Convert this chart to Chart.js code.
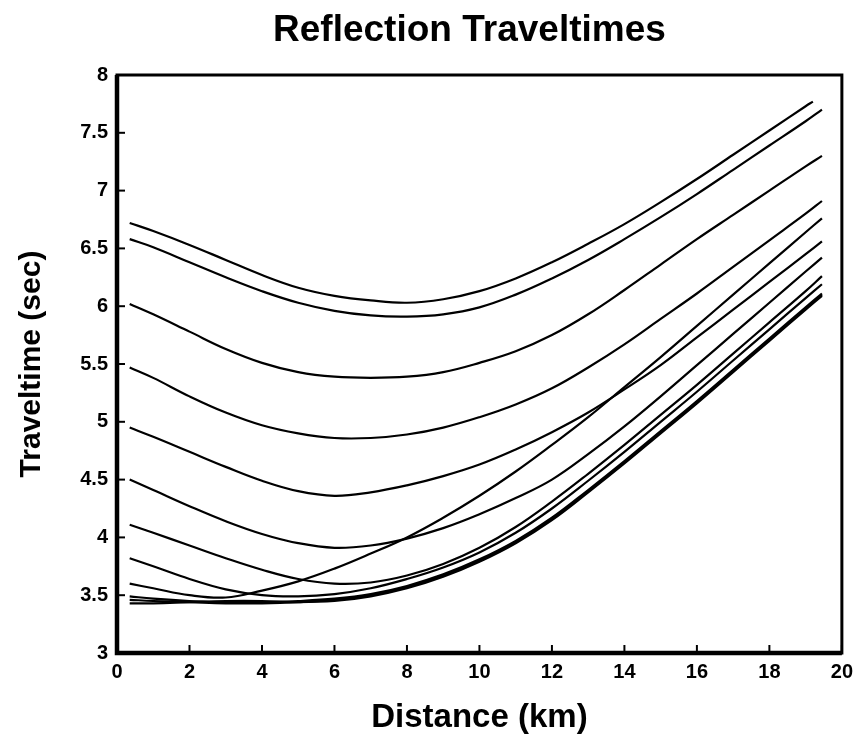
<!DOCTYPE html>
<html>
<head>
<meta charset="utf-8">
<script src="https://cdn.jsdelivr.net/npm/chart.js@4.4.1/dist/chart.umd.min.js"></script>
<style>
  html, body { margin: 0; padding: 0; background: #fff; }
</style>
</head>
<body>
<canvas id="c" width="860" height="742"></canvas>
<script>
// offsets (km) where traveltimes were read
var xs = [0.35, 1, 2, 3, 4, 5, 6, 7, 8, 9, 10, 11, 12, 13, 14, 15, 16, 17, 18, 19, 19.45]
var xsTop = [0.35, 1, 2, 3, 4, 5, 6, 7, 8, 9, 10, 11, 12, 13, 14, 15, 16, 17, 18, 19, 19.2]

// traveltimes (sec), one array per reflector, shallowest last
var r1 = [6.72, 6.65, 6.53, 6.40, 6.27, 6.16, 6.09, 6.05, 6.03, 6.06, 6.13, 6.24, 6.38, 6.54, 6.71, 6.90, 7.10, 7.31, 7.52, 7.73, 7.77]
var r2 = [6.58, 6.51, 6.38, 6.25, 6.13, 6.03, 5.96, 5.92, 5.91, 5.93, 5.99, 6.10, 6.24, 6.40, 6.58, 6.77, 6.97, 7.18, 7.39, 7.60, 7.70]
var r3 = [6.02, 5.93, 5.78, 5.63, 5.51, 5.43, 5.39, 5.38, 5.39, 5.43, 5.51, 5.61, 5.75, 5.93, 6.14, 6.36, 6.58, 6.79, 7.00, 7.21, 7.30]
var r4 = [5.47, 5.38, 5.22, 5.08, 4.97, 4.90, 4.86, 4.86, 4.89, 4.95, 5.04, 5.15, 5.29, 5.47, 5.67, 5.89, 6.11, 6.34, 6.57, 6.80, 6.91]
var r5 = [4.95, 4.87, 4.74, 4.61, 4.49, 4.40, 4.36, 4.39, 4.45, 4.53, 4.63, 4.76, 4.91, 5.08, 5.28, 5.49, 5.73, 5.97, 6.21, 6.45, 6.56]
var r6 = [4.50, 4.41, 4.27, 4.14, 4.03, 3.95, 3.91, 3.93, 3.99, 4.08, 4.20, 4.34, 4.50, 4.72, 4.96, 5.22, 5.49, 5.76, 6.03, 6.30, 6.42]
var r7 = [4.11, 4.04, 3.93, 3.82, 3.72, 3.64, 3.60, 3.61, 3.67, 3.77, 3.91, 4.09, 4.31, 4.55, 4.80, 5.06, 5.32, 5.59, 5.86, 6.13, 6.26]
var r8 = [3.82, 3.75, 3.64, 3.55, 3.50, 3.49, 3.51, 3.56, 3.64, 3.74, 3.87, 4.04, 4.25, 4.49, 4.74, 5.00, 5.26, 5.53, 5.80, 6.07, 6.19]
var r9 = [3.60, 3.56, 3.50, 3.48, 3.54, 3.62, 3.73, 3.86, 4.00, 4.17, 4.36, 4.57, 4.80, 5.04, 5.30, 5.56, 5.83, 6.10, 6.37, 6.64, 6.76]
var r10 = [3.49, 3.47, 3.45, 3.44, 3.44, 3.45, 3.47, 3.51, 3.58, 3.68, 3.81, 3.97, 4.17, 4.41, 4.66, 4.92, 5.18, 5.45, 5.72, 5.99, 6.11]
var r11 = [3.46, 3.45, 3.44, 3.43, 3.43, 3.44, 3.46, 3.50, 3.57, 3.67, 3.80, 3.96, 4.16, 4.40, 4.65, 4.91, 5.17, 5.44, 5.71, 5.98, 6.10]
var r12 = [3.43, 3.43, 3.44, 3.45, 3.45, 3.44, 3.45, 3.49, 3.56, 3.66, 3.79, 3.95, 4.15, 4.39, 4.64, 4.90, 5.16, 5.43, 5.70, 5.97, 6.09]

var xTicks = [0, 2, 4, 6, 8, 10, 12, 14, 16, 18, 20]
var yTicks = [3, 3.5, 4, 4.5, 5, 5.5, 6, 6.5, 7, 7.5, 8]

var curves = [r1, r2, r3, r4, r5, r6, r7, r8, r9, r10, r11, r12]

var font = "'Liberation Sans', Arial, sans-serif"

const datasets = curves.map((c, i) => {
  const px = i == 0 ? xsTop : xs
  return {
    label: "reflector " + (i + 1),
    data: c.map((t, j) => ({ x: px[j], y: t })),
    borderColor: "#000",
    borderWidth: 2.2,
    pointRadius: 0,
    tension: 0.4,
    fill: false,
  }
})

// frame, inward tick marks and title
const framePlugin = {
  id: "frame",
  afterDraw(chart) {
    const ctx = chart.ctx
    const a = chart.chartArea
    const sx = chart.scales.x
    const sy = chart.scales.y
    ctx.save()
    ctx.strokeStyle = "#000"
    ctx.lineWidth = 2
    xTicks.forEach(v => {
      const p = sx.getPixelForValue(v)
      ctx.beginPath(); ctx.moveTo(p, a.bottom); ctx.lineTo(p, a.bottom - 8); ctx.stroke()
    })
    yTicks.forEach(v => {
      const p = sy.getPixelForValue(v)
      ctx.beginPath(); ctx.moveTo(a.left, p); ctx.lineTo(a.left + 8, p); ctx.stroke()
    })
    ctx.lineWidth = 3
    ctx.strokeRect(a.left, a.top, a.right - a.left, a.bottom - a.top)
    ctx.lineWidth = 4.5
    ctx.beginPath()
    ctx.moveTo(a.left, a.top); ctx.lineTo(a.left, a.bottom); ctx.lineTo(a.right, a.bottom)
    ctx.stroke()

    ctx.fillStyle = "#000"
    ctx.font = "bold 37px " + font
    ctx.textAlign = "center"
    ctx.textBaseline = "middle"
    ctx.fillText("Reflection Traveltimes", (a.left + a.right) / 2 - 10, 31)
    ctx.restore()
  },
}

new Chart(document.getElementById("c"), {
  type: "line",
  data: { datasets: datasets },
  options: {
    responsive: false,
    animation: false,
    layout: { padding: { top: 75, right: 17, bottom: 0, left: 0 } },
    plugins: { legend: { display: false }, tooltip: { enabled: false } },
    scales: {
      x: {
        type: "linear",
        min: 0,
        max: 20,
        afterBuildTicks: s => { s.ticks = xTicks.map(v => ({ value: v })) },
        afterFit: s => { s.height = 89 },
        grid: { display: false, drawTicks: false },
        border: { display: false },
        ticks: { color: "#000", padding: 7, callback: v => String(v), font: { family: font, size: 20, weight: "bold" } },
        title: {
          display: true,
          text: "Distance (km)",
          color: "#000",
          padding: { top: 0, bottom: 4 },
          font: { family: font, size: 33, weight: "bold" },
        },
      },
      y: {
        type: "linear",
        min: 3,
        max: 8,
        afterBuildTicks: s => { s.ticks = yTicks.map(v => ({ value: v })) },
        afterFit: s => { s.width = 117 },
        grid: { display: false, drawTicks: false },
        border: { display: false },
        ticks: { color: "#000", padding: 9, callback: v => String(v), font: { family: font, size: 20, weight: "bold" } },
        title: {
          display: true,
          text: "Traveltime (sec)",
          color: "#000",
          padding: { top: 14, bottom: 0 },
          font: { family: font, size: 30, weight: "bold" },
        },
      },
    },
  },
  plugins: [framePlugin],
})
</script>
</body>
</html>
